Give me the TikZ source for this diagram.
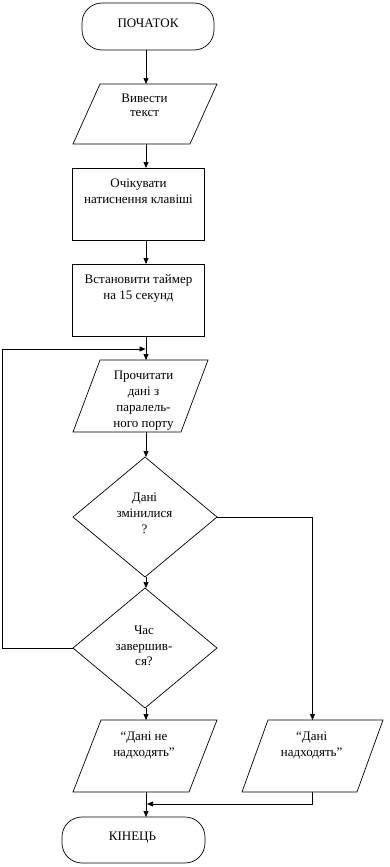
\documentclass[tikz,border=0pt]{standalone}
\usepackage{fontspec}
\setmainfont{Liberation Serif}
\usetikzlibrary{arrows.meta,shapes.geometric}
\tikzset{
  shp/.style={draw=black, line width=0.7pt, inner sep=0pt, outer sep=0pt},
  term/.style={shp, rectangle, rounded corners=20pt},
  proc/.style={shp, rectangle, minimum width=132pt, minimum height=72pt},
  dec/.style={shp, diamond, minimum width=144pt, minimum height=120pt},
  iobox/.style={rectangle, inner sep=0pt, outer sep=0pt},
  txt/.style={font=\fontsize{13}{16}\selectfont, align=center, inner sep=0pt, anchor=north},
  ln/.style={line width=0.7pt},
  arr/.style={ln, -{Triangle[length=6pt,width=5pt]}},
}
\newcommand{\para}[2]{% node name, slant
  \draw[ln] ([xshift=#2]#1.north west) -- (#1.north east) -- ([xshift=-#2]#1.south east) -- (#1.south west) -- cycle;}
\begin{document}
\begin{tikzpicture}[x=1pt,y=-1pt]
\useasboundingbox (0,0) rectangle (389,867);
\fill[white] (0,0) rectangle (389,867);
\coordinate (col) at (146,0);
\coordinate (lp) at (2,349);
\coordinate (mg) at (0,804);

% shapes
\node[term, minimum width=132pt, minimum height=47pt] (start) at (148,26.5) {};
\node[iobox, minimum width=144pt, minimum height=60pt] (io1) at (145,114) {};
\para{io1}{27}
\node[proc] (rect1) at (138.3,204) {};
\node[proc] (rect2) at (138.3,300) {};
\node[iobox, minimum width=135pt, minimum height=72pt] (io2) at (140.5,396) {};
\para{io2}{27}
\node[dec] (dec1) at (145,517) {};
\node[dec] (dec2) at (145,648) {};
\node[iobox, minimum width=144pt, minimum height=72pt] (io3) at (145,756) {};
\para{io3}{28}
\node[iobox, minimum width=141pt, minimum height=72pt] (io4) at (312.5,756) {};
\para{io4}{26}
\node[term, minimum width=143pt, minimum height=46pt] (endt) at (133.5,840) {};

% texts
\node[txt] (t0) at (148,15.8) {\strut ПОЧАТОК};
\node[txt, font=\fontsize{13}{14.5}\selectfont] (t1) at (144.5,91.8) {\strut Вивести\\текст};
\node[txt] (t2) at (138.5,175.8) {\strut Очікувати\\натиснення клавіші};
\node[txt] (t3) at (138.5,272.3) {\strut Встановити таймер\\на 15 секунд};
\node[txt] (t4) at (143.5,367.8) {\strut Прочитати\\дані з\\паралель-\\ного порту};
\node[txt] (t5) at (144.5,490.3) {\strut Дані\\змінилися\\?};
\node[txt, font=\fontsize{13}{15.5}\selectfont] (t6) at (144,623.8) {\strut Час\\завершив-\\ся?};
\node[txt] (t7) at (144,729.3) {\strut “Дані не\\надходять”};
\node[txt] (t8) at (311.7,729.3) {\strut “Дані\\надходять”};
\node[txt] (t9) at (132.5,829.3) {\strut КІНЕЦЬ};

% connectors
\draw[arr] (start.south -| col) -- (io1.north -| col);
\draw[arr] (io1.south -| col) -- (rect1.north -| col);
\draw[arr] (rect1.south -| col) -- (rect2.north -| col);
\draw[arr] (rect2.south -| col) -- (io2.north -| col);
\draw[arr] (io2.south -| col) -- (dec1.north -| col);
\draw[arr] (dec1.south -| col) -- (dec2.north -| col);
\draw[arr] (dec2.south -| col) -- (io3.north -| col);
\draw[arr] (dec1.east) -| (io4.north);
\draw[arr] (dec2.west) -- (dec2.west -| lp) -- (lp) -- ([xshift=-0.5pt]lp -| col);
\draw[arr] (io4.south) |- ([xshift=1pt]mg -| col);
\draw[arr] (io3.south -| col) -- (endt.north -| col);
\end{tikzpicture}
\end{document}
